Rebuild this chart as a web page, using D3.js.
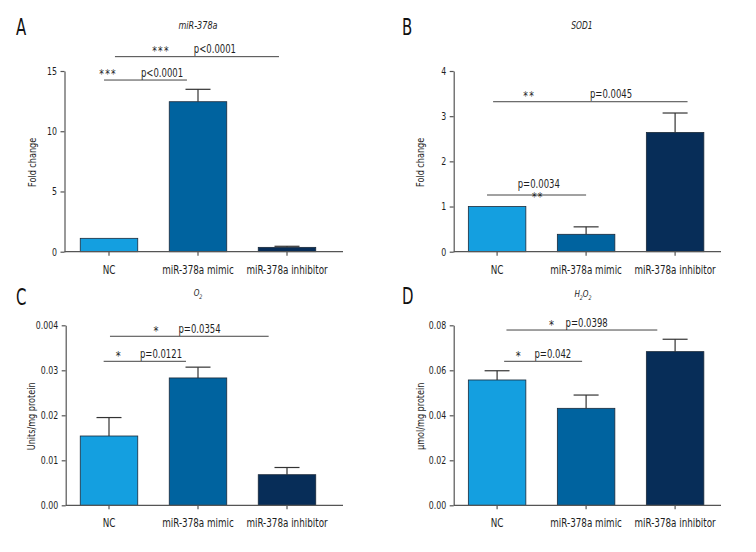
<!DOCTYPE html>
<html><head><meta charset="utf-8">
<script src="https://cdn.jsdelivr.net/npm/d3@7"></script>
<style>
body{margin:0;background:#fff;}
svg{display:block;font-family:"Liberation Sans Narrow","DejaVu Sans Condensed","Arial Narrow",sans-serif;}
</style></head><body>
<svg id="chart" width="756" height="552"></svg>
<script>
// ---- data ----
const categories = ["NC", "miR-378a mimic", "miR-378a inhibitor"];
const colors = ["#149fe0", "#00639f", "#072d58"];

const mirMeans = [1.11, 12.45, 0.36];
const mirErr   = [0, 1.03, 0.09];
const mirTicks = [0, 5, 10, 15];
const mirTickLabels = ["0", "5", "10", "15"];

const sodMeans = [1.0, 0.385, 2.64];
const sodErr   = [0, 0.165, 0.43];
const sodTicks = [0, 1, 2, 3, 4];
const sodTickLabels = ["0", "1", "2", "3", "4"];

const o2Means = [0.0154, 0.0283, 0.0068];
const o2Err   = [0.0041, 0.0024, 0.0016];
const o2Ticks = [0, 0.01, 0.02, 0.03, 0.04];
const o2TickLabels = ["0.00", "0.01", "0.02", "0.03", "0.004"];

const h2o2Means = [0.0557, 0.0431, 0.0683];
const h2o2Err   = [0.0041, 0.0059, 0.0055];
const h2o2Ticks = [0, 0.02, 0.04, 0.06, 0.08];
const h2o2TickLabels = ["0.00", "0.02", "0.04", "0.06", "0.08"];

// significance brackets: [startIdx, endIdx, yValue, stars, starIdx, pText, pIdx, layout]
const mirSig = [
  [-0.056, 0.876, 14.25, "***", -0.01, "p<0.0001", 0.596, "above"],
  [0.067, 1.91, 16.19, "***", 0.584, "p<0.0001", 1.19, "above"]
];
const sodSig = [
  [-0.045, 2.14, 3.32, "**", 0.36, "p=0.0045", 1.28, "above"],
  [-0.113, 1.0, 1.255, "**", 0.457, "p=0.0034", 0.468, "split"]
];
const o2Sig = [
  [0.011, 1.794, 0.03756, "*", 0.528, "p=0.0354", 1.017, "above"],
  [-0.06, 0.865, 0.032, "*", 0.104, "p=0.0121", 0.584, "above"]
];
const h2o2Sig = [
  [0.105, 1.80, 0.0779, "*", 0.612, "p=0.0398", 1.006, "above"],
  [0.079, 0.955, 0.064, "*", 0.237, "p=0.042", 0.626, "above"]
];

// ---- drawing ----
const svg = d3.select("#chart");
const TXT = "#1e1e1e", AX = "#555";

// horizontally condense text (reference uses a condensed face)
function squeeze(sel, sx) {
  sel.each(function () {
    const t = d3.select(this);
    const x = +t.attr("x") || 0;
    t.attr("x", x / sx);
    const tr = t.attr("transform") || "";
    t.attr("transform", (tr + ` scale(${sx},1)`).trim());
  });
}

const panels = [
  {letter:"A", lx:16, ly:35, title:[["miR-378a",""]], tx:198, ty:32.5, tsize:11, tsx:0.82,
   ylab:"Fold change", ylx:35.5, axX:64.5, axEnd:343, yTop:71, yBot:251.7, x0:64.5,
   means:mirMeans, err:mirErr, ticks:mirTicks, tlabels:mirTickLabels, max:15, sig:mirSig},
  {letter:"B", lx:402, ly:35, title:[["SOD1",""]], tx:582, ty:32.5, tsize:10.5, tsx:0.8,
   ylab:"Fold change", ylx:423.5, axX:453.7, axEnd:721, yTop:71, yBot:251.7, x0:452.6,
   means:sodMeans, err:sodErr, ticks:sodTicks, tlabels:sodTickLabels, max:4, sig:sodSig},
  {letter:"C", lx:16, ly:305, title:[["O",""],["2","sub"]], tx:198, ty:299.5, tsize:9.5, tsx:0.85,
   ylab:"Units/mg protein", ylx:35, axX:65.7, axEnd:343, yTop:325.3, yBot:505.3, x0:64.5,
   means:o2Means, err:o2Err, ticks:o2Ticks, tlabels:o2TickLabels, max:0.04, sig:o2Sig},
  {letter:"D", lx:402, ly:304.5, title:[["H",""],["2","sub"],["O",""],["2","sub"]], tx:583, ty:300, tsize:9.5, tsx:0.85,
   ylab:"\u00b5mol/mg protein", ylx:423.5, axX:453.7, axEnd:721, yTop:325.3, yBot:505.3, x0:452.6,
   means:h2o2Means, err:h2o2Err, ticks:h2o2Ticks, tlabels:h2o2TickLabels, max:0.08, sig:h2o2Sig}
];

panels.forEach(p => {
  const g = svg.append("g");
  const x = d3.scaleBand().domain(categories).range([p.x0, p.x0 + 267]).paddingInner(0.354).paddingOuter(0.177);
  const y = d3.scaleLinear().domain([0, p.max]).range([p.yBot, p.yTop]);
  const xc = i => x(categories[0]) + x.bandwidth() / 2 + i * x.step();

  // panel letter
  squeeze(g.append("text").attr("x", p.lx).attr("y", p.ly).attr("font-size", 23).attr("fill", "#111").text(p.letter), 0.72);

  // title
  const t = g.append("text").attr("x", p.tx).attr("y", p.ty).attr("text-anchor", "middle")
    .attr("font-size", p.tsize).attr("font-style", "italic").attr("fill", TXT);
  p.title.forEach(([s, kind]) => {
    if (kind === "sub") t.append("tspan").attr("font-size", p.tsize * 0.65).attr("dy", 3).text(s);
    else t.append("tspan").attr("dy", t.selectAll("tspan").size() ? -3 : 0).text(s);
  });
  squeeze(t, p.tsx);

  // bars
  g.selectAll("rect.bar").data(p.means).join("rect")
    .attr("x", (d, i) => x(categories[i])).attr("width", x.bandwidth())
    .attr("y", d => y(d)).attr("height", d => y(0) - y(d))
    .attr("fill", (d, i) => colors[i]).attr("stroke", "#1b2a3a").attr("stroke-width", 0.8);

  // error bars (upper only)
  p.means.forEach((m, i) => {
    if (p.err[i] <= 0) return;
    const cx = xc(i), yt = y(m + p.err[i]);
    g.append("line").attr("x1", cx).attr("x2", cx).attr("y1", y(m)).attr("y2", yt)
      .attr("stroke", "#333").attr("stroke-width", 1.2);
    g.append("line").attr("x1", cx - 12.5).attr("x2", cx + 12.5).attr("y1", yt).attr("y2", yt)
      .attr("stroke", "#333").attr("stroke-width", 1.2);
  });

  // y axis
  const ya = g.append("g").attr("transform", `translate(${p.axX},0)`)
    .call(d3.axisLeft(y).tickValues(p.ticks).tickFormat((d, i) => p.tlabels[i]).tickSize(4).tickSizeOuter(0).tickPadding(3.5));
  ya.attr("font-family", null);
  ya.select(".domain").attr("stroke", AX).attr("stroke-width", 1.2);
  ya.selectAll(".tick line").attr("stroke", AX).attr("stroke-width", 1.2);
  const yt = ya.selectAll(".tick text").attr("font-size", 10.5).attr("fill", TXT);
  squeeze(yt, 0.83);

  // x axis
  const xa = g.append("g").attr("transform", `translate(0,${p.yBot})`)
    .call(d3.axisBottom(x).tickSize(4).tickSizeOuter(0).tickPadding(10));
  xa.select(".domain").remove();
  xa.attr("font-family", null);
  xa.selectAll(".tick line").attr("stroke", AX).attr("stroke-width", 1.2);
  squeeze(xa.selectAll(".tick text").attr("font-size", 11.5).attr("fill", TXT), 0.85);
  g.append("line").attr("x1", p.axX).attr("x2", p.axEnd).attr("y1", p.yBot).attr("y2", p.yBot)
    .attr("stroke", AX).attr("stroke-width", 1.2);

  // y label
  g.append("text").attr("transform", `translate(${p.ylx},${(p.yTop + p.yBot) / 2 + 1}) rotate(-90) scale(0.82,1)`)
    .attr("text-anchor", "middle").attr("font-size", 11).attr("fill", TXT).text(p.ylab);

  // significance
  p.sig.forEach(([a, b, v, stars, si, ptxt, pi, lay]) => {
    const ly = y(v);
    g.append("line").attr("x1", xc(a)).attr("x2", xc(b)).attr("y1", ly).attr("y2", ly)
      .attr("stroke", "#444").attr("stroke-width", 1);
    squeeze(g.append("text").attr("x", xc(pi)).attr("y", lay === "split" ? ly - 7 : ly - 3.5)
      .attr("text-anchor", "middle").attr("font-size", 11.5).attr("fill", TXT).text(ptxt), 0.82);
    const fs = stars.length === 1 ? 13 : 12;
    const starBase = lay === "split" ? ly - 1.5 + 0.6 * fs : ly - 9 + 0.6 * fs;
    squeeze(g.append("text").attr("x", xc(si)).attr("y", starBase)
      .attr("text-anchor", "middle").attr("font-size", fs)
      .attr("letter-spacing", stars.length === 1 ? 0 : 1.5).attr("fill", TXT).text(stars), 0.85);
  });
});
</script>
</body></html>
